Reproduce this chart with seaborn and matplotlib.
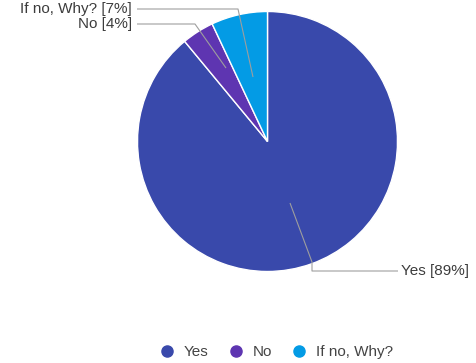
import matplotlib
matplotlib.use("Agg")
import matplotlib.pyplot as plt
from matplotlib.lines import Line2D
import seaborn as sns

categories = ["Yes", "No", "If no, Why?"]
values = [89, 4, 7]
pct_labels = ["Yes [89%]", "No [4%]", "If no, Why? [7%]"]
colors = ["#3949AB", "#5E35B1", "#039BE5"]

sns.set_theme(style="white")
plt.rcParams['font.family'] = ['Liberation Sans', 'DejaVu Sans']

W, H = 477, 363
fig = plt.figure(figsize=(W / 100, H / 100), dpi=100)
ax = fig.add_axes([0, 0, 1, 1])

cx, cy, R = 267.5, 141.5, 130.0

def p(px, py):
    return (px - cx) / R, (cy - py) / R

ax.pie(values, colors=colors, startangle=90, counterclock=False, radius=1,
       wedgeprops=dict(edgecolor="white", linewidth=1.0))
x0, _ = p(0, 0)
x1, _ = p(W, 0)
_, y0 = p(0, H)
_, y1 = p(0, 0)
ax.set_xlim(x0, x1)
ax.set_ylim(y0, y1)
ax.set_aspect("auto")
ax.axis("off")

line_kw = dict(color="#9e9e9e", linewidth=0.8, solid_capstyle="butt")
txt_kw = dict(fontsize=11, color="#3c3c3c", va="center")

# Yes
pts = [p(290, 203), p(312, 262), p(312, 271), p(398, 271)]
ax.plot([a for a, b in pts], [b for a, b in pts], **line_kw)
ax.text(*p(401, 271), pct_labels[0], ha="left", **txt_kw)
# No
pts = [p(226, 68), p(195, 24), p(137, 24)]
ax.plot([a for a, b in pts], [b for a, b in pts], **line_kw)
ax.text(*p(132, 24), pct_labels[1], ha="right", **txt_kw)
# If no, Why?
pts = [p(253, 77), p(238, 9), p(137, 9)]
ax.plot([a for a, b in pts], [b for a, b in pts], **line_kw)
ax.text(*p(132, 9), pct_labels[2], ha="right", **txt_kw)

handles = [Line2D([], [], marker="o", linestyle="", markersize=8,
                  markerfacecolor=c, markeredgecolor=c) for c in colors]
fig.legend(handles, categories, loc="center", bbox_to_anchor=(0.579, 0.03),
           ncol=3, frameon=False, handlelength=1.0, handletextpad=0.6,
           columnspacing=1.3, fontsize=11, labelcolor="#444444")

fig.savefig("out.png", dpi=100)
